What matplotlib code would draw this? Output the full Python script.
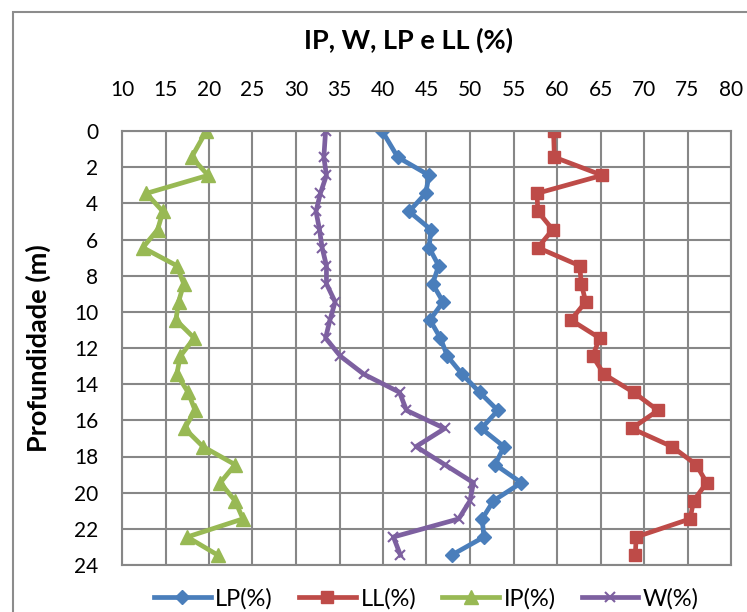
import matplotlib.pyplot as plt
from matplotlib.patches import Rectangle

plt.rcParams['font.family'] = ['Lato', 'DejaVu Sans']

depth = [0, 1.45, 2.45, 3.45, 4.45, 5.45, 6.45, 7.45, 8.45, 9.45, 10.45, 11.45,
         12.45, 13.45, 14.45, 15.45, 16.45, 17.45, 18.45, 19.45, 20.45, 21.45, 22.45, 23.45]

lp = [39.9, 41.7, 45.3, 44.9, 43.0, 45.5, 45.3, 46.4, 45.7, 46.9, 45.4, 46.6,
      47.4, 49.1, 51.1, 53.2, 51.3, 53.9, 52.9, 55.9, 52.7, 51.4, 51.6, 47.9]
ll = [59.6, 59.7, 65.2, 57.7, 57.8, 59.5, 57.8, 62.6, 62.8, 63.3, 61.6, 64.9,
      64.1, 65.4, 68.8, 71.6, 68.6, 73.2, 76.0, 77.2, 75.7, 75.3, 69.1, 69.0]
ip = [19.7, 18.0, 19.9, 12.8, 14.7, 14.1, 12.4, 16.3, 17.1, 16.5, 16.2, 18.3,
      16.7, 16.3, 17.6, 18.4, 17.2, 19.3, 23.0, 21.3, 23.0, 23.9, 17.5, 21.0]
w = [33.4, 33.2, 33.5, 32.8, 32.3, 32.7, 33.0, 33.5, 33.5, 34.5, 33.9, 33.4,
     35.1, 37.8, 41.9, 42.7, 47.1, 43.8, 47.1, 50.4, 50.0, 48.7, 41.2, 42.0]

xticks = list(range(10, 81, 5))
yticks = list(range(0, 25, 2))

fig = plt.figure(figsize=(7.47, 6.12), dpi=100)
fig.patches.append(Rectangle((13 / 747, -0.1), 1.2, 1 - 12 / 612 + 0.1,
                             transform=fig.transFigure, fill=False,
                             edgecolor='#8c8c8c', linewidth=1.5))
ax = fig.add_axes([122 / 747, 1 - 565 / 612, (731 - 122) / 747, (565 - 131) / 612])

lw = 3.4
ax.plot(lp, depth, color='#4A7EBB', lw=lw, marker='D', ms=7, label='LP(%)')
ax.plot(ll, depth, color='#BE4B48', lw=lw, marker='s', ms=8.5, label='LL(%)')
ax.plot(ip, depth, color='#98B954', lw=lw, marker='^', ms=10, label='IP(%)')
ax.plot(w, depth, color='#7D60A0', lw=lw, marker='x', ms=7, mew=1.5, label='W(%)')

ax.set_xlim(10, 80)
ax.set_ylim(24, 0)
ax.set_xticks(xticks)
ax.set_yticks(yticks)
ax.xaxis.tick_top()
ax.tick_params(length=0, labelsize=15, colors='black')
ax.tick_params(axis='x', pad=22)
ax.tick_params(axis='y', pad=17)
ax.grid(True, color='#878787', lw=1.5)
ax.set_axisbelow(True)
for s in ax.spines.values():
    s.set_color('#878787')
    s.set_linewidth(1.5)

fig.text(408 / 747, 1 - 40 / 612, 'IP, W, LP e LL (%)', ha='center', va='center',
         fontsize=19.5, fontweight='bold')
fig.text(38 / 747, 1 - 348 / 612, 'Profundidade (m)', ha='center', va='center',
         rotation=90, fontsize=19.5, fontweight='bold')

ax.legend(loc='center', bbox_to_anchor=(0.5, -34 / 434), ncol=4, frameon=False,
          fontsize=17, handlelength=2.4, columnspacing=1.1, handletextpad=0.2,
          numpoints=1)

fig.savefig('out.png', dpi=100)
